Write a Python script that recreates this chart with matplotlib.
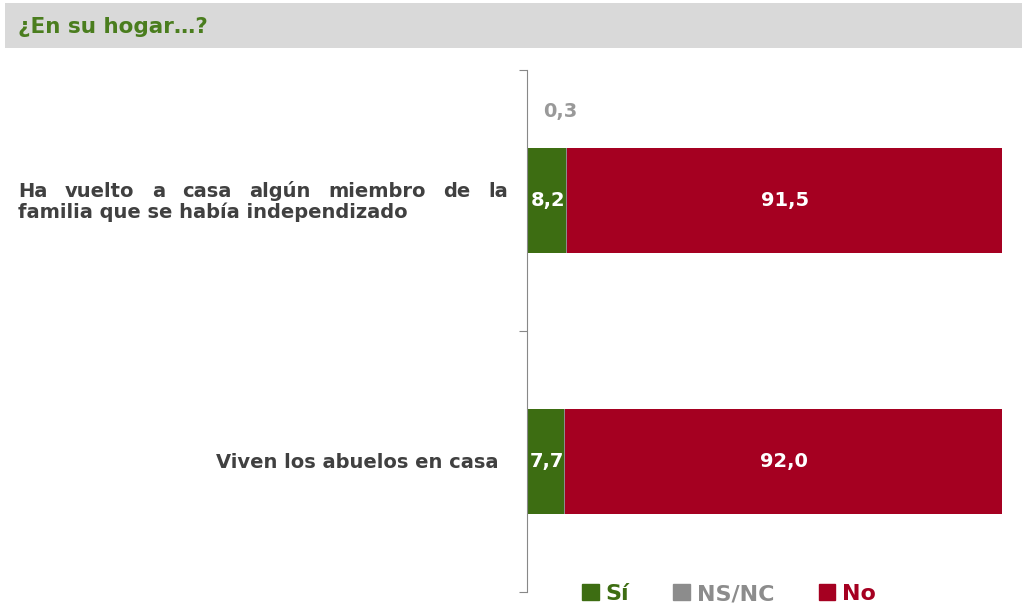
import matplotlib.pyplot as plt
from matplotlib.patches import Patch, Rectangle

# datos
categorias = ["Ha vuelto a casa algún miembro de la familia que se había independizado",
              "Viven los abuelos en casa"]
si = [8.2, 7.7]
nsnc = [0.3, 0.3]
no = [91.5, 92.0]
series = ["Sí", "NS/NC", "No"]

verde = "#3d6d12"
gris = "#8c8c8c"
rojo = "#a50021"
texto = "#404040"

W, H = 1030, 608
fig = plt.figure(figsize=(10.3, 6.08), dpi=100)
fig.patch.set_facecolor("white")

# barra de título
fig.patches.append(Rectangle((5 / W, 1 - 48 / H), 1017 / W, 45 / H,
                             transform=fig.transFigure, facecolor="#d9d9d9",
                             edgecolor="none", zorder=0))
fig.text(18 / W, 1 - 27 / H, "¿En su hogar…?", color="#4a7d1e", fontsize=15.5,
         fontweight="bold", va="center", ha="left")

ax = fig.add_axes([527 / W, 1 - 592 / H, 475 / W, 522 / H])
y = list(range(len(categorias)))
alto = 0.40
ax.barh(y, si, height=alto, color=verde, label=series[0])
izq2 = si
ax.barh(y, nsnc, left=izq2, height=alto, color=gris, label=series[1])
izq3 = [a + b for a, b in zip(si, nsnc)]
ax.barh(y, no, left=izq3, height=alto, color=rojo, label=series[2])

ax.set_xlim(0, 100)
ax.set_ylim(1.5, -0.5)
for s in ["top", "right", "bottom"]:
    ax.spines[s].set_visible(False)
ax.spines["left"].set_color("#888888")
ax.set_xticks([])
ax.set_yticks([-0.5, 0.5, 1.5])
ax.set_yticklabels([])
ax.tick_params(axis="y", length=6, color="#888888")

# etiquetas de datos
for i in y:
    ax.text(si[i] / 2 + 0.3, i, f"{si[i]:.1f}".replace(".", ","), color="white",
            fontsize=14, fontweight="bold", ha="center", va="center")
    ax.text(izq3[i] + no[i] / 2, i, f"{no[i]:.1f}".replace(".", ","), color="white",
            fontsize=14, fontweight="bold", ha="center", va="center")
ax.text(si[0] - 1.3 + nsnc[0] / 2, -0.34, f"{nsnc[0]:.1f}".replace(".", ","),
        color="#999999", fontsize=14, fontweight="bold", ha="center", va="center")

# etiquetas de categoría (la primera justificada)
fig.canvas.draw()
r = fig.canvas.get_renderer()
palabras = "Ha vuelto a casa algún miembro de la".split()
objs = [fig.text(0, 0, p, color=texto, fontsize=14, fontweight="bold",
                 va="baseline", ha="left") for p in palabras]
anchos = [o.get_window_extent(r).width for o in objs]
x0, x1 = 18, 508
hueco = (x1 - x0 - sum(anchos)) / (len(palabras) - 1)
x = x0
for o, a in zip(objs, anchos):
    o.set_position((x / W, 1 - 197 / H))
    x += a + hueco
fig.text(x0 / W, 1 - 218 / H, "familia que se había independizado", color=texto,
         fontsize=14, fontweight="bold", va="baseline", ha="left")
fig.text(498 / W, 1 - 463 / H, categorias[1], color=texto, fontsize=14,
         fontweight="bold", va="center", ha="right")

# leyenda
handles = [Patch(color=c) for c in (verde, gris, rojo)]
leg = fig.legend(handles, series, loc="center", bbox_to_anchor=(729 / W, 1 - 594 / H),
                 ncol=3, frameon=False, prop={"size": 16, "weight": "bold"},
                 handlelength=0.75, handleheight=0.75,
                 handletextpad=0.3, columnspacing=2.0)
for t, c in zip(leg.get_texts(), (verde, gris, rojo)):
    t.set_color(c)

fig.savefig("out.png", dpi=100)
